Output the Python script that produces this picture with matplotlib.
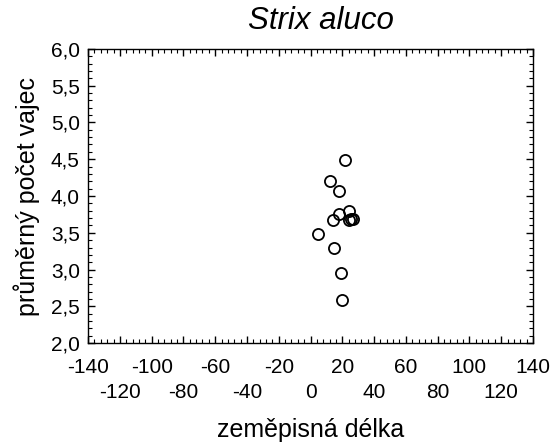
import matplotlib.pyplot as plt
from matplotlib.ticker import MultipleLocator, FuncFormatter

plt.rcParams['font.family'] = ['Liberation Sans', 'DejaVu Sans']

# data
delka = [22, 12, 18, 24, 18, 14, 24.5, 25.5, 27, 5, 15, 19, 20]
vejce = [4.49, 4.20, 4.07, 3.79, 3.75, 3.68, 3.67, 3.69, 3.69, 3.49, 3.29, 2.95, 2.59]

xticks = list(range(-140, 141, 20))
xticks_row1 = xticks[0::2]
xticks_row2 = xticks[1::2]

fig = plt.figure(figsize=(5.54, 4.48), dpi=100)
ax = fig.add_axes([0.159, 0.234, 0.803, 0.657])

ax.plot(delka, vejce, 'o', mfc='none', mec='black', ms=8, mew=1.3)

ax.set_xlim(-140, 140)
ax.set_ylim(2, 6)
ax.set_xticks(xticks)
ax.set_xticklabels([str(t) if t in xticks_row1 else '' for t in xticks])
ax.xaxis.set_minor_locator(MultipleLocator(4))
ax.yaxis.set_major_locator(MultipleLocator(0.5))
ax.yaxis.set_minor_locator(MultipleLocator(0.1))
ax.yaxis.set_major_formatter(FuncFormatter(lambda v, p: f'{v:.1f}'.replace('.', ',')))

ax.tick_params(which='both', direction='in', top=True, right=True, labelsize=15)
ax.tick_params(axis='x', pad=11)
ax.tick_params(axis='y', pad=6)
ax.tick_params(which='major', length=5, width=1)
ax.tick_params(which='minor', length=3, width=0.8)
for s in ax.spines.values():
    s.set_linewidth(1)

# second row of x labels
sec = ax.secondary_xaxis('bottom')
sec.set_xticks(xticks_row2)
sec.set_xticklabels([str(t) for t in xticks_row2])
sec.tick_params(length=0, pad=29, labelsize=15)
sec.spines['bottom'].set_visible(False)
sec.set_xlabel('zeměpisná délka', fontsize=18, labelpad=11)

ax.set_title('Strix aluco', fontsize=22.5, style='italic', pad=14, x=0.523)
ax.set_ylabel('průměrný počet vajec', fontsize=18, labelpad=8)

fig.savefig('out.png', dpi=100)
